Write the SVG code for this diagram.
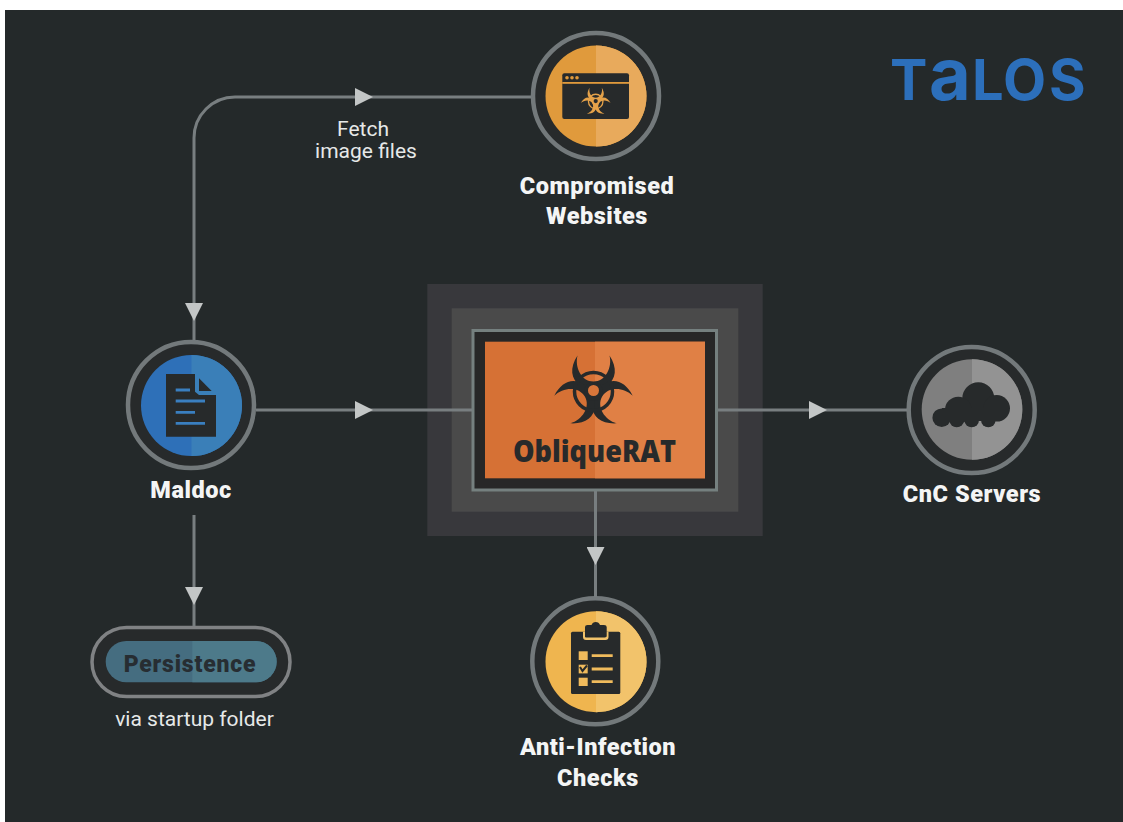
<svg xmlns="http://www.w3.org/2000/svg" xmlns:xlink="http://www.w3.org/1999/xlink" width="1123" height="822" viewBox="0 0 1123 822">
<style>
.ring{fill:#272a2b;stroke:#73797b;stroke-width:4.5}
.dark{fill:#272a2b}
.line{fill:none;stroke:#787e80;stroke-width:3}
.mid{marker-mid:url(#arrow)}
.title{font-family:"Roboto","Liberation Sans",sans-serif;font-weight:900;font-size:23.5px;letter-spacing:.55px;fill:#f4f5f5;text-anchor:middle}
.note{font-family:"Roboto","Liberation Sans",sans-serif;font-size:21px;fill:#e6e8e8;text-anchor:middle}
.bar{stroke-width:2.8;fill:none}
</style>
<defs>
<marker id="arrow" markerUnits="userSpaceOnUse" markerWidth="18" markerHeight="18" refX="9" refY="9" orient="auto"><path d="M0 0L18 9L0 18Z" fill="#c3c6c6"/></marker>
<g id="bio">
<g id="bioArm"><path d="M-16-36C-24-24-23-12-13-6L-3-1H3L13-6C23-12 24-24 16-36C19-24 12-10 0-10C-12-10-19-24-16-36Z"/></g>
<use xlink:href="#bioArm" href="#bioArm" transform="rotate(120)"/>
<use xlink:href="#bioArm" href="#bioArm" transform="rotate(240)"/>
<circle r="19" fill="none" stroke="currentColor" stroke-width="3.500"/>
<circle r="9.500"/>
</g>
</defs>
<rect width="1123" height="822" fill="#ffffff"/>
<rect x="5" y="10" width="1118" height="812" fill="#24292a"/>

<g id="compromised-websites">
<circle class="ring" cx="596" cy="96" r="63"/>
<circle cx="596" cy="96" r="50.5" fill="#e09a3c"/>
<path d="M596 45.500A50.500 50.500 0 0 1 596 146.500Z" fill="#e8aa5c"/>
<rect class="dark" x="562.300" y="73.300" width="66.700" height="45.700" rx="2"/>
<rect x="562.300" y="82" width="66.700" height="1.800" fill="#e09a3c"/>
<circle cx="567" cy="77.700" r="1.800" fill="#e09a3c"/><circle cx="572" cy="77.700" r="1.800" fill="#e09a3c"/><circle cx="577" cy="77.700" r="1.800" fill="#e09a3c"/>
<g transform="translate(595.700 101.500) scale(.38)" fill="#e5a24a" color="#e5a24a"><use xlink:href="#bio" href="#bio"/><circle r="5.500" cy="-1" fill="#272a2b"/></g>
<text class="title" x="597" y="194">Compromised</text>
<text class="title" x="597" y="224">Websites</text>
</g>

<g id="maldoc">
<circle class="ring" cx="191" cy="405" r="63"/>
<circle cx="191.500" cy="405.500" r="50.500" fill="#2e70b8"/>
<path d="M191.500 355A50.500 50.500 0 0 1 191.500 456Z" fill="#3a7fb8"/>
<path class="dark" d="M166 374H195V391.700L199 395H216V436.700H166Z"/>
<path class="dark" d="M199 378.300L211.700 391H199Z"/>
<path class="bar" stroke="#3a7fc0" d="M175.700 390H190M175.700 401H205M175.700 412.300H195M175.700 423.300H205"/>
<text class="title" x="191" y="498">Maldoc</text>
</g>

<g id="obliquerat">
<rect x="427.300" y="284" width="335.400" height="252" fill="#38383c"/>
<rect x="451.700" y="308.300" width="286.600" height="203.400" fill="#4a4a4a"/>
<rect x="473" y="330.500" width="243.500" height="159.500" fill="#272727" stroke="#75807f" stroke-width="3"/>
<rect x="485" y="341.700" width="220" height="136.600" fill="#d67135"/>
<rect x="595" y="341.700" width="110" height="136.600" fill="#e08045"/>
<g transform="translate(593.500 391.500)" fill="#272a2b" color="#272a2b"><use xlink:href="#bio" href="#bio"/><circle r="5.500" cy="-1" fill="#d8763a"/></g>
<text x="594.500" y="461.700" font-family="'Open Sans','Liberation Sans',sans-serif" font-weight="800" font-size="30" fill="#272a2b" text-anchor="middle" textLength="163" lengthAdjust="spacingAndGlyphs">ObliqueRAT</text>
</g>

<g id="cnc-servers">
<circle class="ring" cx="971.700" cy="410" r="63"/>
<circle cx="972" cy="409.500" r="50.300" fill="#7f7f7f"/>
<path d="M972 359.200A50.300 50.300 0 0 1 972 459.800Z" fill="#939393"/>
<g class="dark"><circle cx="978.300" cy="398.300" r="16"/><circle cx="958.300" cy="410" r="13.300"/><circle cx="996.700" cy="408.300" r="13.300"/><circle cx="941.700" cy="417.700" r="9.300"/><circle cx="956.700" cy="420" r="7.300"/><circle cx="971.700" cy="420" r="7.300"/><circle cx="988.300" cy="420" r="7.300"/><rect x="942" y="408" width="54" height="13"/></g>
<text class="title" x="972" y="502">CnC Servers</text>
</g>

<g id="anti-infection-checks">
<circle class="ring" cx="595.300" cy="661.300" r="63"/>
<circle cx="596" cy="661.700" r="50.500" fill="#efb54f"/>
<path d="M596 611.200A50.500 50.500 0 0 1 596 712.200Z" fill="#f2c36b"/>
<rect class="dark" x="571" y="631.700" width="49.300" height="62.300" rx="1.500"/>
<path d="M583 631.700V637Q583 640 586 640H605.500Q608.500 640 608.500 637V631.700H606V636.500Q606 637.500 605 637.500H586Q585 637.500 585 636.500V631.700Z" fill="#f2c36b"/>
<path class="dark" d="M585 636.700V627Q585 625 587.500 625H591.500A4.500 4.500 0 0 1 600 625H604Q606.700 625 606.700 627V636.700Z"/>
<g fill="#f0bb5c"><rect x="578.700" y="651.300" width="9" height="8.700"/><rect x="578.700" y="664.700" width="9" height="8.700"/><rect x="578.700" y="677.700" width="9" height="8.300"/></g>
<path d="M580 667L582.500 671L587 665.500" fill="none" stroke="#272a2b" stroke-width="2"/>
<path class="bar" stroke="#f0bb5c" d="M591.700 655.700H612.700M591.700 669H612.700M591.700 681.700H612.700"/>
<text class="title" x="598" y="755">Anti-Infection</text>
<text class="title" x="598" y="786">Checks</text>
</g>

<g id="persistence">
<rect x="92" y="627.500" width="198" height="69" rx="34.500" fill="#272a2b" stroke="#808284" stroke-width="3.500"/>
<rect x="105.700" y="641" width="171" height="41.300" rx="20.600" fill="#456d80"/>
<path d="M192.300 641H256A20.600 20.600 0 0 1 256 682.300H192.300Z" fill="#4d7a8a"/>
<text x="190" y="671.700" font-family="Roboto,'Liberation Sans',sans-serif" font-weight="900" font-size="23" letter-spacing=".8" fill="#272d32" text-anchor="middle">Persistence</text>
<text class="note" x="194.500" y="726">via startup folder</text>
</g>

<g id="fetch-label">
<text class="note" x="363" y="136">Fetch</text>
<text class="note" x="366" y="158">image files</text>
</g>

<g id="connectors">
<path class="line mid" d="M235 97L364 97L531 97"/>
<path class="line" d="M235 97A41 41 0 0 0 194 138"/>
<path class="line mid" d="M194 138L194 312L194 340"/>
<path class="line mid" d="M256 410L364 410L472 410"/>
<path class="line mid" d="M718 410L818 410L907 410"/>
<path class="line mid" d="M595.500 491L595.500 556L595.500 597"/>
<path class="line mid" d="M194 515L194 596L194 626"/>
</g>

<g id="talos-logo">
<text y="100" font-family="Inter,'Liberation Sans',sans-serif" font-weight="700" fill="#2c6fbb"><tspan x="890" font-size="56">T</tspan><tspan x="929" font-size="72">a</tspan><tspan x="972" font-size="56">L</tspan><tspan x="1003" font-size="56">O</tspan><tspan x="1049" font-size="56">S</tspan></text>
</g>
</svg>
